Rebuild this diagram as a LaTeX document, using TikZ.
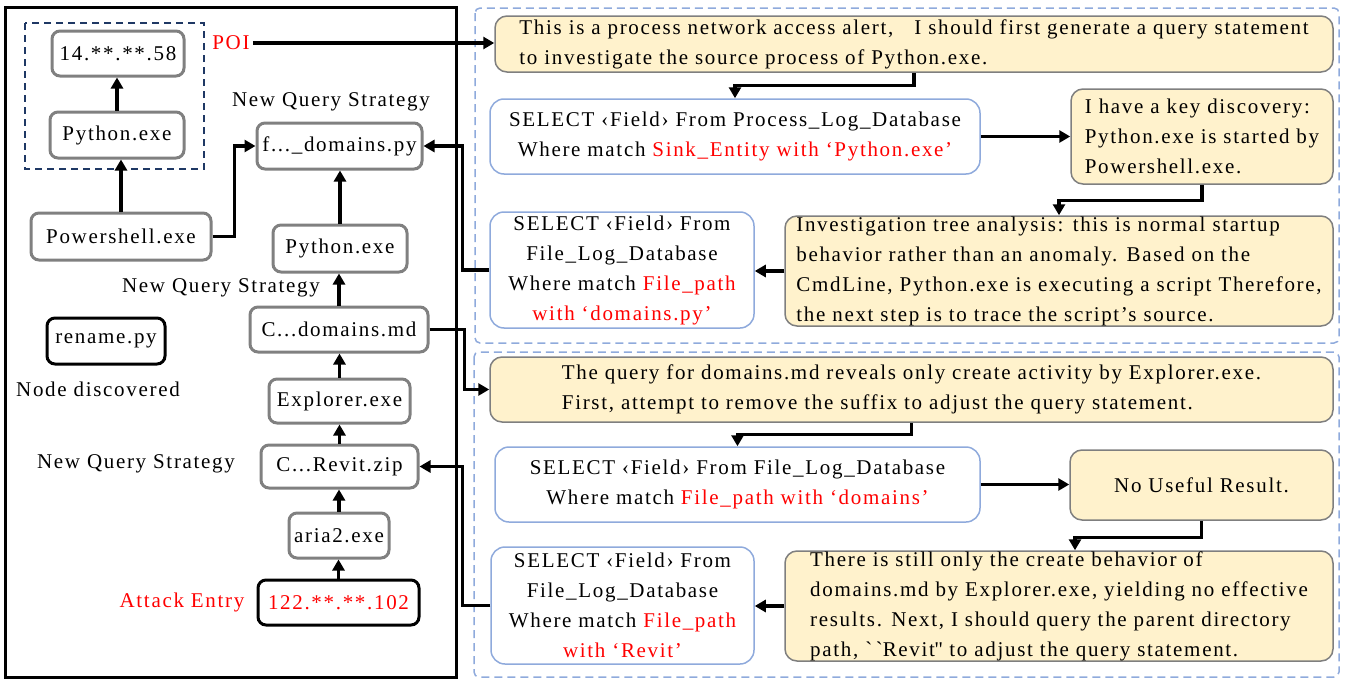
\documentclass[tikz,border=0pt]{standalone}
\usepackage{fontspec}
\setmainfont{Liberation Serif}[LetterSpace=8]
\usetikzlibrary{arrows.meta,calc}
\definecolor{ybg}{HTML}{FFF2CC}
\definecolor{yedge}{HTML}{7F7F7F}
\definecolor{bedge}{HTML}{8FAADC}
\definecolor{navy}{HTML}{1F3864}
\definecolor{nodegray}{HTML}{808080}
\definecolor{myred}{HTML}{FF0000}
\newcommand\rd[1]{\textcolor{myred}{#1}}
\newcommand\grv{\XeTeXglyph\XeTeXcharglyph"60\relax}
\newcommand\sq{\XeTeXglyph\XeTeXcharglyph"27\relax}
\tikzset{
  lnode/.style={draw=nodegray, line width=3pt, rounded corners=8pt, fill=white, inner sep=0pt, align=center},
  bnode/.style={lnode, draw=black},
  ybox/.style={draw=yedge, fill=ybg, line width=1.5pt, rounded corners=12pt, inner sep=0pt, align=left},
  sbox/.style={draw=bedge, fill=white, line width=1.5pt, rounded corners=14pt, inner sep=0pt, align=center},
  panel/.style={draw=bedge, line width=1.5pt, dash pattern=on 8pt off 5pt, rounded corners=5pt},
  lbl/.style={inner sep=0pt},
  arr/.style={line width=3.2pt, -{Triangle[length=11pt,width=12pt]}},
}
\begin{document}
\begin{tikzpicture}[x=1pt,y=-1pt]
\useasboundingbox (0,0) rectangle (1347,688);
\fontsize{21}{30}\selectfont
% left panel
\draw[line width=3pt] (5,7) rectangle (456,677);
\draw[navy, line width=2pt, dash pattern=on 7pt off 5pt] (25,23) rectangle (204,169);
\node[lnode, minimum width=132pt, minimum height=45pt] (n14) at (118,53.5) {14.**.**.58};
\node[lnode, minimum width=134pt, minimum height=46pt] (py1) at (117,135) {Python.exe};
\node[lnode, minimum width=180pt, minimum height=47pt] (ps) at (121,236.5) {Powershell.exe};
\node[lnode, minimum width=165pt, minimum height=46pt] (fdp) at (339.5,146) {f...\_domains.py};
\node[lnode, minimum width=134pt, minimum height=47pt] (py2) at (340,248.5) {Python.exe};
\node[lnode, minimum width=178pt, minimum height=45pt] (cmd) at (339,329.5) {C...domains.md};
\node[bnode, minimum width=118pt, minimum height=46pt] (ren) at (106,341) {rename.py};
\node[lnode, minimum width=141pt, minimum height=44pt] (exp) at (339.5,401) {Explorer.exe};
\node[lnode, minimum width=157pt, minimum height=43pt] (rev) at (339.5,466.5) {C...Revit.zip};
\node[lnode, minimum width=100pt, minimum height=45pt] (aria) at (339,535.5) {aria2.exe};
\node[bnode, minimum width=161pt, minimum height=45pt] (ip) at (338.5,602.5) {\rd{122.**.**.102}};
\node[lbl] (nq1) at (331,102) {New Query Strategy};
\node[lbl] (nq2) at (221,288) {New Query Strategy};
\node[lbl] (nq3) at (136,464) {New Query Strategy};
\node[lbl] (nd) at (98,389) {Node discovered};
\node[lbl] (ae) at (182,602) {\rd{Attack Entry}};
\node[lbl] (poi) at (231,43) {\rd{POI}};
% right panels
\draw[panel] (475,8) rectangle (1339,343);
\draw[panel] (474,352) rectangle (1339,677);
\node[ybox, minimum width=838pt, minimum height=56pt] (y1) at (914,44)
  {This is a process network access alert,\quad I should first generate a query statement\\to investigate the source process of Python.exe.};
\node[sbox, minimum width=490pt, minimum height=75pt] (s1) at (735,136.5)
  {SELECT ‹Field› From Process\_Log\_Database\\Where match \rd{Sink\_Entity with ‘Python.exe’}};
\node[ybox, minimum width=262pt, minimum height=95pt] (k) at (1202,136.5)
  {I have a key discovery:\\Python.exe is started by\\Powershell.exe.};
\node[ybox, minimum width=548pt, minimum height=110pt] (inv) at (1059,271)
  {Investigation tree analysis: this is normal startup\\behavior rather than an anomaly. Based on the\\CmdLine, Python.exe is executing a script Therefore,\\the next step is to trace the script's source.};
\node[sbox, minimum width=264pt, minimum height=116pt] (s2) at (622,270)
  {SELECT ‹Field› From\\File\_Log\_Database\\Where match \rd{File\_path}\\\rd{with ‘domains.py’}};
\node[ybox, minimum width=843pt, minimum height=65pt] (y3) at (911.5,389.5)
  {The query for domains.md reveals only create activity by Explorer.exe.\\First, attempt to remove the suffix to adjust the query statement.};
\node[sbox, minimum width=485pt, minimum height=75pt] (s3) at (737.5,484.5)
  {SELECT ‹Field› From File\_Log\_Database\\Where match \rd{File\_path with ‘domains’}};
\node[ybox, align=center, minimum width=263pt, minimum height=70pt] (nu) at (1201.5,485) {No Useful Result.};
\node[ybox, minimum width=548pt, minimum height=110pt] (th) at (1059,606)
  {There is still only the create behavior of\\domains.md by Explorer.exe, yielding no effective\\results. Next, I should query the parent directory\\path, \grv\,\grv Revit\sq\sq{} to adjust the query statement.};
\node[sbox, minimum width=263pt, minimum height=117pt] (s4) at (622.5,605.5)
  {SELECT ‹Field› From\\File\_Log\_Database\\Where match \rd{File\_path}\\\rd{with ‘Revit’}};
% connectors left
\draw[arr] (py1.north) -- (py1.north |- n14.south);
\draw[arr] (ps.north) -- (ps.north |- py1.south);
\draw[arr] (ps.east) -- ++(22,0) |- (fdp.west);
\draw[arr] (py2.north) -- (py2.north |- fdp.south);
\draw[arr] (cmd.north) -- (cmd.north |- py2.south);
\draw[arr] (exp.north) -- (exp.north |- cmd.south);
\draw[arr] (rev.north) -- (rev.north |- exp.south);
\draw[arr] (aria.north) -- (aria.north |- rev.south);
\draw[arr] (ip.north) -- (ip.north |- aria.south);
% connectors right
\draw[arr] (poi.east) ++(3,0) -- (y1.west |- poi.east);
\draw[arr] (y1.south) -- ++(0,13) -| (s1.north);
\draw[arr] (s1.east) -- (k.west);
\draw[arr] (k.south) -- ++(0,16) -| (inv.north);
\draw[arr] (inv.west) -- (s2.east |- inv.west);
\draw[arr] (s2.west) -- ++(-27,0) |- (fdp.east);
\draw[arr] (cmd.east) -- ++(35,0) |- (y3.west);
\draw[arr] (y3.south) -- ++(0,12) -| (s3.north);
\draw[arr] (s3.east) -- (nu.west |- s3.east);
\draw[arr] (nu.south) -- ++(0,17) -| ($(th.north)+(16,0)$);
\draw[arr] (th.west) -- (s4.east |- th.west);
\draw[arr] (s4.west) -- ++(-28,0) |- (rev.east);
\end{tikzpicture}
\end{document}
